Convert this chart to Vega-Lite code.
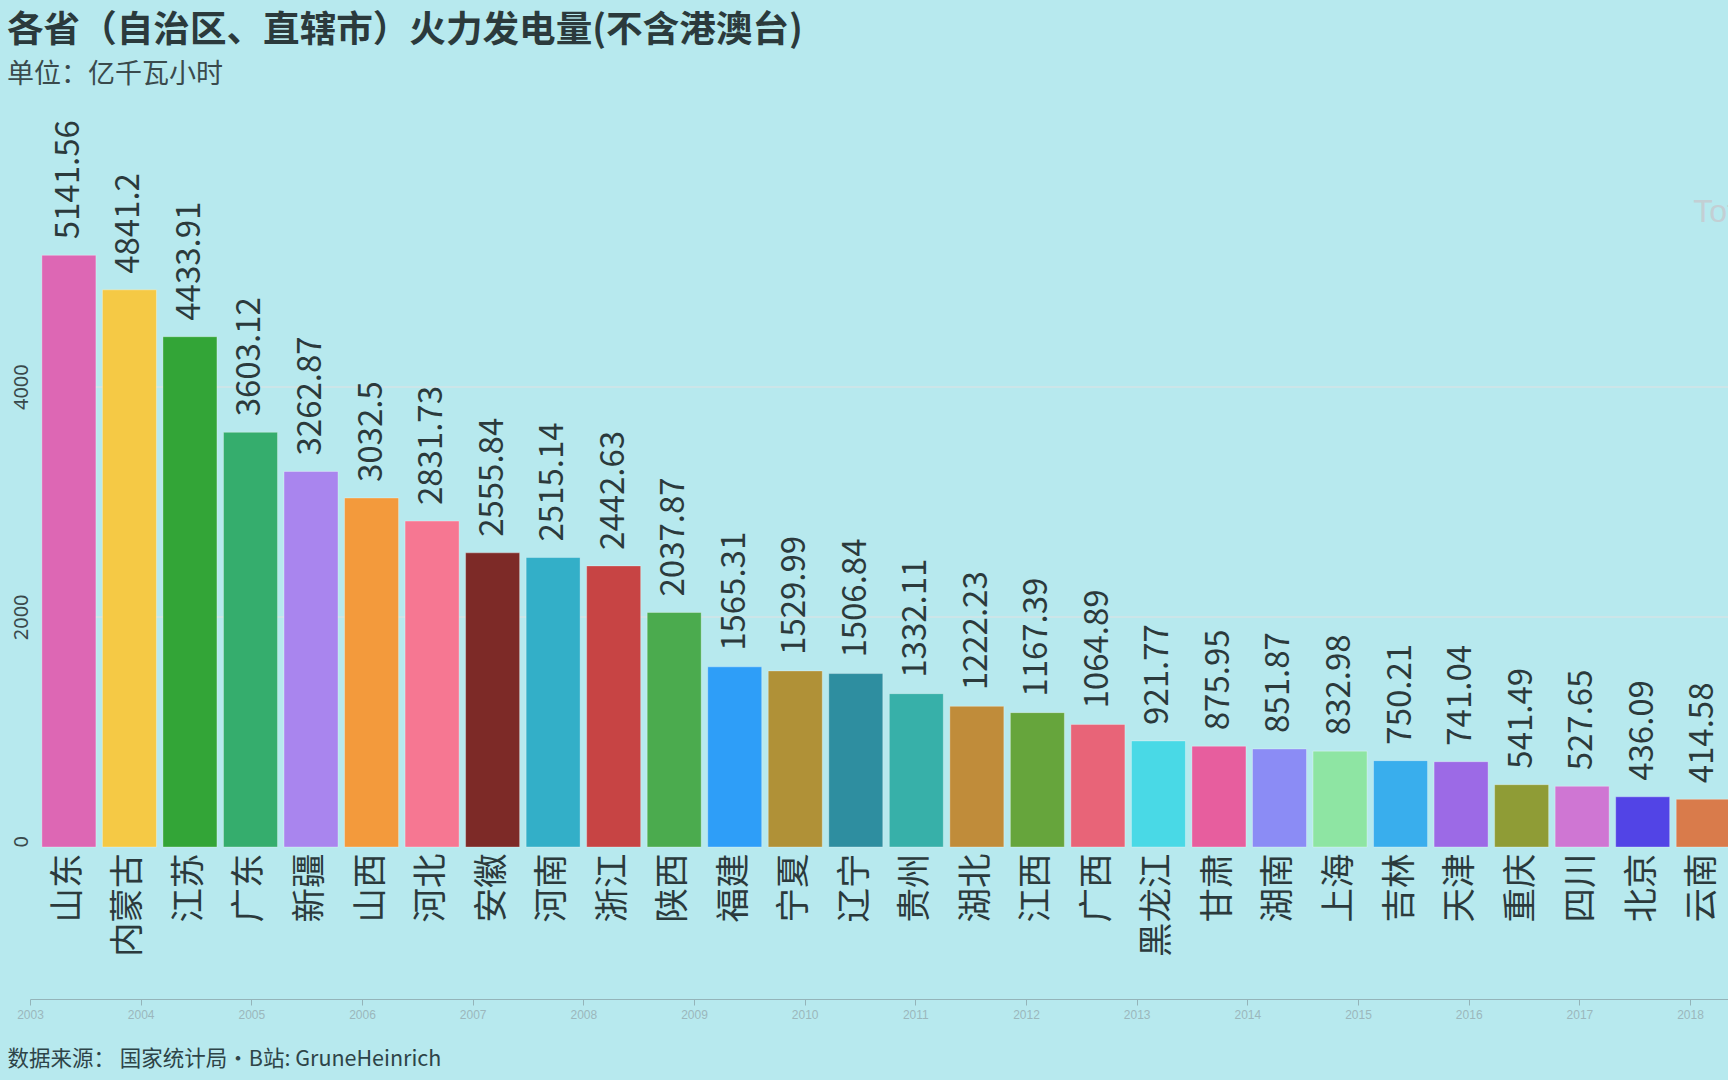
{
  "$schema": "https://vega.github.io/schema/vega-lite/v6.json",
  "autosize": {"type": "none"},
  "width": 1698,
  "height": 690.5,
  "padding": {"left": 30, "top": 156.5, "right": 0, "bottom": 233},
  "background": "#b7e9ee",
  "config": {"view": {"stroke": null}},
  "title": {
    "text": "各省（自治区、直辖市）火力发电量(不含港澳台)",
    "subtitle": "单位：亿千瓦小时",
    "anchor": "start",
    "frame": "group",
    "font": "Noto Sans CJK SC",
    "fontSize": 36.6,
    "fontWeight": "bold",
    "color": "#2b3a3c",
    "subtitleFont": "Noto Sans CJK SC",
    "subtitleFontSize": 27,
    "subtitleColor": "#3a4a4c",
    "subtitlePadding": 13,
    "offset": 32,
    "dx": -23
  },
  "datasets": {
    "power": [
      {"province": "山东", "value": 5141.56},
      {"province": "内蒙古", "value": 4841.2},
      {"province": "江苏", "value": 4433.91},
      {"province": "广东", "value": 3603.12},
      {"province": "新疆", "value": 3262.87},
      {"province": "山西", "value": 3032.5},
      {"province": "河北", "value": 2831.73},
      {"province": "安徽", "value": 2555.84},
      {"province": "河南", "value": 2515.14},
      {"province": "浙江", "value": 2442.63},
      {"province": "陕西", "value": 2037.87},
      {"province": "福建", "value": 1565.31},
      {"province": "宁夏", "value": 1529.99},
      {"province": "辽宁", "value": 1506.84},
      {"province": "贵州", "value": 1332.11},
      {"province": "湖北", "value": 1222.23},
      {"province": "江西", "value": 1167.39},
      {"province": "广西", "value": 1064.89},
      {"province": "黑龙江", "value": 921.77},
      {"province": "甘肃", "value": 875.95},
      {"province": "湖南", "value": 851.87},
      {"province": "上海", "value": 832.98},
      {"province": "吉林", "value": 750.21},
      {"province": "天津", "value": 741.04},
      {"province": "重庆", "value": 541.49},
      {"province": "四川", "value": 527.65},
      {"province": "北京", "value": 436.09},
      {"province": "云南", "value": 414.58}
    ],
    "years": [
      {"year": 2003}, {"year": 2004}, {"year": 2005}, {"year": 2006},
      {"year": 2007}, {"year": 2008}, {"year": 2009}, {"year": 2010},
      {"year": 2011}, {"year": 2012}, {"year": 2013}, {"year": 2014},
      {"year": 2015}, {"year": 2016}, {"year": 2017}, {"year": 2018}
    ],
    "note": [{"province": "云南", "level": 5516, "note": "Total"}]
  },
  "layer": [
    {
      "encoding": {
        "x": {
          "field": "province",
          "type": "nominal",
          "sort": null,
          "scale": {
            "domain": ["山东","内蒙古","江苏","广东","新疆","山西","河北","安徽","河南","浙江","陕西","福建","宁夏","辽宁","贵州","湖北","江西","广西","黑龙江","甘肃","湖南","上海","吉林","天津","重庆","四川","北京","云南"],
            "range": [11.9, 1700.2],
            "paddingInner": 0.108,
            "paddingOuter": 0
          },
          "axis": {
            "title": null,
            "labelAngle": -90,
            "labelFont": "Noto Sans CJK SC",
            "labelFontSize": 34.5,
            "labelColor": "#2b3a3c",
            "labelPadding": 6,
            "ticks": false,
            "domain": false,
            "grid": false
          }
        }
      },
      "layer": [
        {
          "data": {"name": "power"},
          "mark": {"type": "bar", "stroke": "#ffffff", "strokeOpacity": 0.3, "strokeWidth": 1},
          "encoding": {
            "y": {
              "field": "value",
              "type": "quantitative",
              "scale": {"domain": [0, 6000], "nice": false},
              "axis": {
                "title": null,
                "values": [0, 2000, 4000],
                "format": "d",
                "labelAngle": -90,
                "labelFont": "Noto Sans",
                "labelFontSize": 20,
                "labelColor": "#3a4a4c",
                "labelPadding": 3,
                "labelBaseline": "alphabetic",
                "labelFlush": false,
                "labelAlign": {"condition": {"test": "datum.value === 0", "value": "left"}, "value": "center"},
                "ticks": false,
                "domain": false,
                "grid": true,
                "gridColor": {"condition": {"test": "datum.value === 0", "value": "transparent"}, "value": "#d3e3e6"},
                "gridWidth": 1.5
              }
            },
            "color": {
              "field": "province",
              "type": "nominal",
              "legend": null,
              "scale": {
                "domain": ["山东","内蒙古","江苏","广东","新疆","山西","河北","安徽","河南","浙江","陕西","福建","宁夏","辽宁","贵州","湖北","江西","广西","黑龙江","甘肃","湖南","上海","吉林","天津","重庆","四川","北京","云南"],
                "range": ["#dd67b4","#f5c945","#33a537","#35ad6d","#a985ee","#f39a3c","#f67792","#7d2a27","#33afc8","#c74444","#4bab4e","#2e9ef8","#b09137","#2e8ea0","#37b0a9","#c08c3a","#66a53c","#e86478","#49d9e6","#e75e9e","#8b8cf5","#8ee5a3","#39aeed","#9c6ae6","#8f9c36","#cf76d3","#5244e6","#d97b4b"]
              }
            }
          }
        },
        {
          "data": {"name": "power"},
          "mark": {"type": "text", "angle": 270, "align": "left", "baseline": "middle", "dx": 16, "font": "Noto Sans CJK SC", "fontSize": 33, "color": "#2b3a3c"},
          "encoding": {
            "y": {"field": "value", "type": "quantitative"},
            "text": {"field": "value", "type": "quantitative"}
          }
        },
        {
          "data": {"name": "note"},
          "mark": {"type": "text", "align": "left", "baseline": "middle", "dx": -10, "font": "Liberation Sans", "fontSize": 32, "color": "#c3cfd4"},
          "encoding": {
            "y": {"field": "level", "type": "quantitative"},
            "text": {"field": "note", "type": "nominal"}
          }
        }
      ]
    },
    {
      "data": {"name": "years"},
      "mark": {"type": "point", "opacity": 0},
      "encoding": {
        "x": {
          "field": "year",
          "type": "quantitative",
          "scale": {"domain": [2003, 2018.343], "nice": false, "zero": false},
          "axis": {
            "orient": "bottom",
            "offset": 152,
            "values": [2003,2004,2005,2006,2007,2008,2009,2010,2011,2012,2013,2014,2015,2016,2017,2018],
            "format": "d",
            "labelFont": "Liberation Sans",
            "labelFontSize": 12,
            "labelColor": "#9bb7bc",
            "labelPadding": 4,
            "labelFlush": false,
            "domainColor": "#94b4b9",
            "tickColor": "#94b4b9",
            "tickSize": 6,
            "grid": false,
            "title": "数据来源： 国家统计局•B站: GruneHeinrich",
            "titleFont": "Noto Sans CJK SC",
            "titleFontSize": 21.5,
            "titleFontWeight": "normal",
            "titleColor": "#2e4448",
            "titleAnchor": "start",
            "titleAlign": "left",
            "titleBaseline": "middle",
            "titleAngle": 0,
            "titleX": -23,
            "titleY": 60
          }
        },
        "y": {"datum": 0}
      }
    }
  ],
  "resolve": {"scale": {"x": "independent"}, "axis": {"x": "independent"}}
}
